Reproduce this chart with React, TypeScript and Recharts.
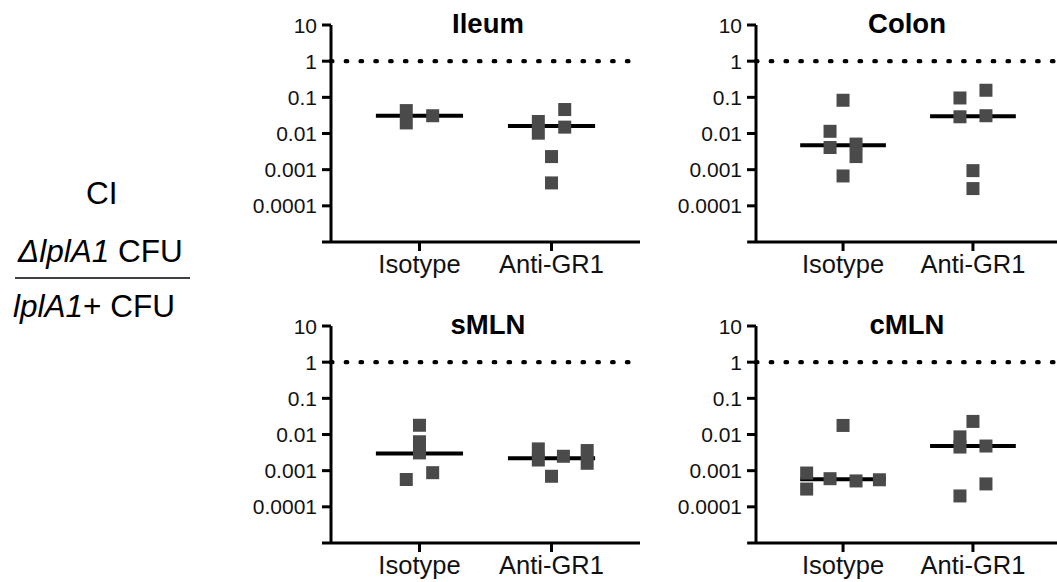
import React from 'react';
import { ScatterChart, Scatter, XAxis, YAxis, ReferenceLine } from 'recharts';

const FONT = '"Liberation Sans", Arial, Helvetica, sans-serif';

// Axis definitions
const categories = ['Isotype', 'Anti-GR1'];
const categoryPositions = [1, 2];
const yTicks = [10, 1, 0.1, 0.01, 0.001, 0.0001];
const yTickLabels = ['10', '1', '0.1', '0.01', '0.001', '0.0001'];
const yDomain = [0.00001, 10];
const xDomain = [0.33, 2.67];
const thresholdValue = 1;

// Ileum
const ileumIsotype = [0.043, 0.0196, 0.031];
const ileumIsotypeX = [0.9, 0.9, 1.1];
const ileumAnti = [0.0215, 0.0102, 0.046, 0.015, 0.0023, 0.00043];
const ileumAntiX = [1.9, 1.9, 2.1, 2.1, 2.0, 2.0];
const ileumMedians = [0.031, 0.016];

// Colon
const colonIsotype = [0.083, 0.0115, 0.0041, 0.0051, 0.0023, 0.00067];
const colonIsotypeX = [1.0, 0.9, 0.9, 1.1, 1.1, 1.0];
const colonAnti = [0.096, 0.157, 0.029, 0.031, 0.00094, 0.0003];
const colonAntiX = [1.9, 2.1, 1.9, 2.1, 2.0, 2.0];
const colonMedians = [0.0047, 0.030];

// sMLN
const smlnIsotype = [0.018, 0.0063, 0.0031, 0.00057, 0.00088];
const smlnIsotypeX = [1.0, 1.0, 1.0, 0.9, 1.1];
const smlnAnti = [0.004, 0.00197, 0.0025, 0.0007, 0.0036, 0.0016];
const smlnAntiX = [1.9, 1.9, 2.09, 2.0, 2.27, 2.27];
const smlnMedians = [0.003, 0.0022];

// cMLN
const cmlnIsotype = [0.0178, 0.00086, 0.00031, 0.0006, 0.00052, 0.00056];
const cmlnIsotypeX = [1.0, 0.72, 0.72, 0.9, 1.1, 1.28];
const cmlnAnti = [0.0086, 0.0045, 0.023, 0.0048, 0.00043, 0.0002];
const cmlnAntiX = [1.9, 1.9, 2.0, 2.1, 2.1, 1.9];
const cmlnMedians = [0.00058, 0.0048];

const MEDIAN_HALF = 0.33;

const Square = (props: any) => {
  const { cx, cy } = props;
  if (cx == null || cy == null) return <g />;
  return <rect x={cx - 6.5} y={cy - 6.5} width={13} height={13} fill="#4a4a4a" />;
};

const NoShape = () => <g />;

const YTick = (props: any) => {
  const { x, y, payload } = props;
  const idx = yTicks.indexOf(payload.value);
  const label = idx >= 0 ? yTickLabels[idx] : String(payload.value);
  return (
    <text x={x} y={y} dy="0.36em" textAnchor="end" fontSize={21} fontFamily={FONT} fill="#111">
      {label}
    </text>
  );
};

const XTick = (props: any) => {
  const { x, y, payload } = props;
  const idx = categoryPositions.indexOf(payload.value);
  return (
    <text x={x} y={y} dy="0.72em" textAnchor="middle" fontSize={25.5} fontFamily={FONT} fill="#111">
      {idx >= 0 ? categories[idx] : ''}
    </text>
  );
};

const DottedLine = (props: any) => {
  const { x1, y1, x2, y2 } = props;
  if ([x1, y1, x2, y2].some((v) => v == null || isNaN(v))) return <g />;
  return (
    <line
      x1={x1}
      y1={y1}
      x2={x2}
      y2={y2}
      stroke="#000"
      strokeWidth={4.4}
      strokeDasharray="1.4 13.4"
      strokeLinecap="round"
    />
  );
};

type PanelProps = {
  left: number;
  top: number;
  width: number;
  height: number;
  right: number;
  xAxisHeight: number;
  isoY: number[];
  isoX: number[];
  antiY: number[];
  antiX: number[];
  medians: number[];
};

function Panel(p: PanelProps) {
  const points = [
    ...p.isoY.map((y, i) => ({ x: p.isoX[i], y })),
    ...p.antiY.map((y, i) => ({ x: p.antiX[i], y })),
  ];
  const medianData = p.medians.map((m, i) => [
    { x: categoryPositions[i] - MEDIAN_HALF, y: m },
    { x: categoryPositions[i] + MEDIAN_HALF, y: m },
  ]);
  return (
    <div style={{ position: 'absolute', left: p.left, top: p.top }}>
      <ScatterChart
        width={p.width}
        height={p.height}
        margin={{ top: 25, right: p.right, bottom: 8, left: 0 }}
      >
        <XAxis
          type="number"
          dataKey="x"
          domain={xDomain}
          ticks={categoryPositions}
          interval={0}
          allowDataOverflow
          axisLine={{ stroke: '#000', strokeWidth: 3 }}
          tickLine={{ stroke: '#000', strokeWidth: 3 }}
          tickSize={9}
          tickMargin={4}
          tick={<XTick />}
          height={p.xAxisHeight}
        />
        <YAxis
          type="number"
          dataKey="y"
          scale="log"
          domain={yDomain}
          ticks={yTicks}
          interval={0}
          allowDataOverflow
          axisLine={{ stroke: '#000', strokeWidth: 3 }}
          tickLine={{ stroke: '#000', strokeWidth: 3 }}
          tickSize={9}
          tickMargin={5}
          tick={<YTick />}
          width={81}
        />
        <ReferenceLine
          segment={[
            { x: xDomain[0] - 0.068, y: yDomain[0] },
            { x: xDomain[0], y: yDomain[0] },
          ]}
          stroke="#000"
          strokeWidth={3}
          ifOverflow="visible"
        />
        <ReferenceLine
          segment={[
            { x: xDomain[0], y: thresholdValue },
            { x: xDomain[1], y: thresholdValue },
          ]}
          shape={DottedLine}
          ifOverflow="visible"
        />
        {medianData.map((d, i) => (
          <Scatter
            key={'m' + i}
            data={d}
            line={{ stroke: '#000', strokeWidth: 4 }}
            shape={NoShape}
            isAnimationActive={false}
          />
        ))}
        <Scatter data={points} shape={Square} isAnimationActive={false} />
      </ScatterChart>
    </div>
  );
}

export default function App() {
  return (
    <div
      style={{
        position: 'absolute',
        left: 0,
        top: 0,
        width: 1057,
        height: 582,
        overflow: 'hidden',
        background: '#fff',
        fontFamily: FONT,
      }}
    >
      <Panel left={250} top={0} width={400} height={290} right={10} xAxisHeight={40}
        isoY={ileumIsotype} isoX={ileumIsotypeX} antiY={ileumAnti} antiX={ileumAntiX}
        medians={ileumMedians} />
      <Panel left={675} top={0} width={385} height={290} right={0} xAxisHeight={40}
        isoY={colonIsotype} isoX={colonIsotypeX} antiY={colonAnti} antiX={colonAntiX}
        medians={colonMedians} />
      <Panel left={250} top={301} width={400} height={280} right={10} xAxisHeight={30}
        isoY={smlnIsotype} isoX={smlnIsotypeX} antiY={smlnAnti} antiX={smlnAntiX}
        medians={smlnMedians} />
      <Panel left={675} top={301} width={385} height={280} right={0} xAxisHeight={30}
        isoY={cmlnIsotype} isoX={cmlnIsotypeX} antiY={cmlnAnti} antiX={cmlnAntiX}
        medians={cmlnMedians} />
      <svg
        width={1057}
        height={582}
        style={{ position: 'absolute', left: 0, top: 0, pointerEvents: 'none' }}
      >
        <g fontFamily={FONT} fill="#000">
          <text x={488} y={33} textAnchor="middle" fontSize={27.5} fontWeight="bold">Ileum</text>
          <text x={907} y={33} textAnchor="middle" fontSize={27.5} fontWeight="bold">Colon</text>
          <text x={488} y={334} textAnchor="middle" fontSize={27.5} fontWeight="bold">sMLN</text>
          <text x={907} y={334} textAnchor="middle" fontSize={27.5} fontWeight="bold">cMLN</text>
          <text x={86} y={204} fontSize={31.5}>CI</text>
          <text x={18} y={262} fontSize={31.5}>
            <tspan fontStyle="italic">ΔlplA1</tspan> CFU
          </text>
          <line x1={15} x2={190} y1={278} y2={278} stroke="#000" strokeWidth={1.3} />
          <text x={13} y={317} fontSize={31.5}>
            <tspan fontStyle="italic">lplA1</tspan>+ CFU
          </text>
        </g>
      </svg>
    </div>
  );
}
